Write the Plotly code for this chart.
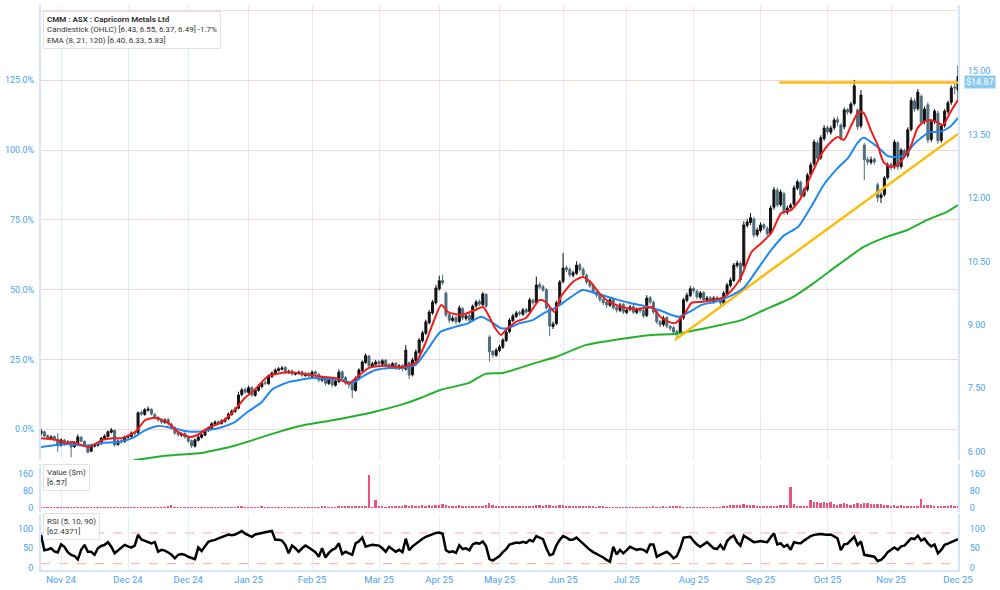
import plotly.graph_objects as go

# ---------------- data ----------------
tick_pos = [6, 26, 44, 62, 81, 101, 119, 137, 156, 175, 195, 215, 235, 254, 274]
tick_labels = ["Nov 24", "Dec 24", "Dec 24", "Jan 25", "Feb 25", "Mar 25", "Apr 25", "May 25",
               "Jun 25", "Jul 25", "Aug 25", "Sep 25", "Oct 25", "Nov 25", "Dec 25"]

close_ = [
    6.49, 6.37, 6.32, 6.35, 6.28, 6.14, 6.28, 6.18, 6.23, 6.11,
    6.21, 6.35, 6.25, 6.16, 5.99, 6.14, 6.16, 6.18, 6.32, 6.37,
    6.47, 6.51, 6.16, 6.25, 6.23, 6.35, 6.37, 6.44, 6.42, 6.92,
    6.89, 6.99, 7.01, 6.89, 6.80, 6.75, 6.70, 6.75, 6.66, 6.56,
    6.44, 6.40, 6.42, 6.35, 6.25, 6.14, 6.28, 6.35, 6.40, 6.51,
    6.56, 6.66, 6.70, 6.68, 6.73, 6.77, 6.89, 6.96, 7.01, 7.34,
    7.46, 7.41, 7.51, 7.34, 7.46, 7.55, 7.62, 7.62, 7.79, 7.86,
    7.93, 7.96, 7.98, 7.88, 7.90, 7.84, 7.86, 7.88, 7.81, 7.84,
    7.79, 7.88, 7.84, 7.70, 7.74, 7.62, 7.70, 7.58, 7.67, 7.88,
    7.74, 7.62, 7.58, 7.46, 7.74, 7.93, 8.12, 8.27, 8.03, 8.08,
    8.12, 8.08, 8.15, 8.05, 8.03, 8.08, 7.98, 8.03, 7.96, 8.40,
    7.81, 8.17, 8.36, 8.64, 8.81, 9.07, 9.30, 9.54, 9.87, 10.04,
    9.99, 9.23, 9.11, 9.16, 9.07, 9.40, 9.16, 9.21, 9.11, 9.44,
    9.54, 9.49, 9.73, 9.44, 8.36, 8.29, 8.40, 8.48, 8.64, 8.83,
    9.11, 9.21, 9.28, 9.26, 9.35, 9.30, 9.59, 9.52, 9.94, 9.89,
    9.82, 9.40, 8.97, 9.02, 9.52, 10.01, 10.34, 10.30, 10.18, 10.23,
    10.41, 10.30, 10.18, 10.01, 9.92, 9.78, 9.70, 9.59, 9.52, 9.47,
    9.59, 9.40, 9.35, 9.47, 9.30, 9.35, 9.42, 9.30, 9.37, 9.33,
    9.21, 9.63, 9.54, 9.30, 9.07, 9.00, 9.16, 8.97, 8.92, 8.83,
    8.81, 9.16, 9.59, 9.70, 9.85, 9.80, 9.66, 9.75, 9.59, 9.63,
    9.56, 9.63, 9.59, 9.52, 9.75, 9.94, 10.06, 10.41, 10.46, 10.06,
    11.36, 11.43, 11.53, 11.12, 11.24, 11.36, 11.29, 11.15, 11.76, 12.19,
    11.83, 12.14, 11.67, 11.76, 11.83, 12.24, 12.38, 12.07, 12.19, 12.54,
    12.78, 13.32, 12.94, 13.42, 13.65, 13.56, 13.65, 13.84, 13.79, 13.42,
    14.08, 14.03, 14.22, 14.65, 13.68, 14.43, 12.90, 12.85, 12.90, 12.85,
    12.00, 12.07, 12.47, 12.78, 12.73, 13.32, 12.73, 13.13, 13.00, 13.61,
    14.30, 14.10, 14.50, 13.79, 14.10, 13.37, 13.80, 14.05, 13.35, 13.70,
    14.05, 14.25, 14.60, 14.60, 14.87,
]
open_ = [
    6.43, 6.47, 6.38, 6.31, 6.36, 6.30, 6.15, 6.27, 6.19, 6.22,
    6.12, 6.22, 6.34, 6.24, 6.15, 6.01, 6.13, 6.15, 6.19, 6.31,
    6.36, 6.46, 6.50, 6.17, 6.26, 6.24, 6.34, 6.36, 6.45, 6.45,
    6.93, 6.88, 6.98, 7.00, 6.88, 6.81, 6.76, 6.69, 6.76, 6.65,
    6.57, 6.45, 6.39, 6.43, 6.36, 6.26, 6.13, 6.27, 6.34, 6.39,
    6.50, 6.55, 6.65, 6.71, 6.67, 6.72, 6.78, 6.88, 6.95, 7.03,
    7.35, 7.47, 7.40, 7.52, 7.33, 7.45, 7.54, 7.63, 7.61, 7.78,
    7.85, 7.92, 7.95, 7.99, 7.87, 7.91, 7.83, 7.85, 7.89, 7.80,
    7.85, 7.78, 7.89, 7.83, 7.69, 7.75, 7.61, 7.71, 7.57, 7.66,
    7.89, 7.75, 7.63, 7.59, 7.45, 7.73, 7.92, 8.11, 8.26, 8.02,
    8.07, 8.13, 8.07, 8.16, 8.06, 8.02, 8.09, 7.97, 8.04, 7.95,
    8.10, 7.82, 8.15, 8.35, 8.62, 8.80, 9.05, 9.28, 9.52, 9.85,
    10.05, 9.75, 9.24, 9.10, 9.17, 9.08, 9.38, 9.15, 9.22, 9.12,
    9.45, 9.55, 9.48, 9.72, 8.71, 8.37, 8.28, 8.39, 8.47, 8.63,
    8.84, 9.10, 9.20, 9.29, 9.25, 9.36, 9.31, 9.58, 9.53, 9.95,
    9.90, 9.83, 9.38, 8.96, 9.03, 9.53, 10.02, 10.35, 10.31, 10.17,
    10.22, 10.42, 10.31, 10.17, 10.02, 9.93, 9.77, 9.71, 9.60, 9.53,
    9.46, 9.60, 9.41, 9.34, 9.48, 9.29, 9.36, 9.43, 9.29, 9.38,
    9.34, 9.22, 9.64, 9.53, 9.31, 9.08, 9.01, 9.17, 8.96, 8.93,
    8.84, 8.82, 9.17, 9.58, 9.69, 9.86, 9.79, 9.65, 9.76, 9.58,
    9.64, 9.55, 9.64, 9.60, 9.51, 9.74, 9.93, 10.05, 10.40, 10.45,
    10.40, 11.35, 11.42, 11.50, 11.13, 11.23, 11.37, 11.28, 11.16, 11.78,
    12.18, 11.84, 12.10, 11.66, 11.77, 11.85, 12.23, 12.37, 12.06, 12.20,
    12.55, 12.80, 13.30, 12.95, 13.40, 13.66, 13.55, 13.66, 13.85, 13.72,
    13.68, 14.09, 14.02, 14.23, 14.08, 13.70, 13.25, 12.91, 12.84, 12.91,
    12.31, 12.01, 12.08, 12.48, 12.79, 12.73, 13.30, 12.74, 13.12, 13.01,
    13.62, 14.29, 14.11, 14.40, 13.80, 14.20, 13.38, 13.81, 14.00, 13.36,
    13.71, 14.04, 14.26, 14.62, 14.55,
]
high_ = [
    6.55, 6.50, 6.41, 6.39, 6.38, 6.44, 6.31, 6.30, 6.27, 6.25,
    6.25, 6.41, 6.37, 6.27, 6.17, 6.17, 6.20, 6.22, 6.35, 6.41,
    6.50, 6.56, 6.53, 6.29, 6.29, 6.38, 6.41, 6.48, 6.49, 6.95,
    6.97, 7.03, 7.07, 7.03, 6.91, 6.84, 6.79, 6.79, 6.80, 6.68,
    6.60, 6.49, 6.45, 6.46, 6.38, 6.29, 6.31, 6.39, 6.44, 6.54,
    6.60, 6.70, 6.74, 6.74, 6.77, 6.81, 6.93, 7.00, 7.06, 7.42,
    7.51, 7.52, 7.56, 7.55, 7.49, 7.59, 7.66, 7.68, 7.83, 7.90,
    7.97, 8.00, 8.03, 8.02, 7.94, 7.94, 7.89, 7.92, 7.92, 7.88,
    7.88, 7.92, 7.92, 7.86, 7.78, 7.78, 7.74, 7.74, 7.71, 7.95,
    7.92, 7.79, 7.67, 7.62, 7.78, 7.97, 8.16, 8.33, 8.29, 8.13,
    8.17, 8.17, 8.19, 8.19, 8.09, 8.12, 8.12, 8.07, 8.07, 8.52,
    8.14, 8.22, 8.42, 8.69, 8.86, 9.12, 9.35, 9.59, 9.94, 10.16,
    10.18, 9.79, 9.30, 9.22, 9.21, 9.46, 9.42, 9.26, 9.26, 9.48,
    9.59, 9.60, 9.78, 9.75, 8.76, 8.41, 8.45, 8.53, 8.69, 8.88,
    9.16, 9.26, 9.33, 9.33, 9.40, 9.40, 9.64, 9.62, 10.14, 10.00,
    9.95, 9.87, 9.42, 9.08, 9.57, 10.06, 10.70, 10.40, 10.36, 10.28,
    10.50, 10.46, 10.36, 10.21, 10.06, 9.97, 9.82, 9.75, 9.65, 9.58,
    9.64, 9.64, 9.45, 9.52, 9.52, 9.39, 9.47, 9.47, 9.41, 9.42,
    9.38, 9.70, 9.68, 9.57, 9.35, 9.12, 9.21, 9.21, 9.00, 8.97,
    8.88, 9.21, 9.64, 9.76, 9.92, 9.90, 9.84, 9.80, 9.80, 9.68,
    9.68, 9.68, 9.69, 9.64, 9.80, 9.99, 10.12, 10.46, 10.52, 10.50,
    11.45, 11.50, 11.64, 11.55, 11.30, 11.42, 11.40, 11.33, 11.82, 12.26,
    12.24, 12.20, 12.15, 11.82, 11.88, 12.30, 12.43, 12.41, 12.25, 12.59,
    12.84, 13.38, 13.36, 13.48, 13.72, 13.71, 13.71, 13.90, 13.92, 13.76,
    14.14, 14.12, 14.27, 14.79, 14.12, 14.55, 13.30, 12.97, 12.98, 12.95,
    12.36, 12.13, 12.52, 12.84, 12.84, 13.38, 13.34, 13.18, 13.16, 13.67,
    14.38, 14.35, 14.57, 14.45, 14.16, 14.26, 13.85, 14.10, 14.06, 13.76,
    14.10, 14.30, 14.66, 14.72, 15.13,
]
low_ = [
    6.37, 6.34, 6.28, 6.29, 6.24, 6.00, 6.12, 6.14, 6.16, 5.87,
    6.09, 6.19, 6.22, 6.12, 5.96, 5.99, 6.10, 6.12, 6.16, 6.28,
    6.33, 6.43, 6.12, 6.14, 6.19, 6.21, 6.31, 6.33, 6.38, 6.42,
    6.84, 6.85, 6.95, 6.86, 6.77, 6.71, 6.66, 6.66, 6.62, 6.52,
    6.40, 6.36, 6.35, 6.31, 6.21, 6.09, 6.10, 6.24, 6.31, 6.37,
    6.47, 6.52, 6.62, 6.64, 6.64, 6.69, 6.75, 6.85, 6.92, 7.00,
    7.31, 7.37, 7.37, 7.30, 7.30, 7.42, 7.50, 7.57, 7.58, 7.74,
    7.82, 7.89, 7.92, 7.84, 7.84, 7.80, 7.80, 7.82, 7.77, 7.77,
    7.75, 7.75, 7.80, 7.64, 7.65, 7.56, 7.58, 7.52, 7.54, 7.62,
    7.70, 7.58, 7.50, 7.27, 7.42, 7.69, 7.88, 8.07, 7.98, 7.99,
    8.03, 8.04, 8.03, 8.01, 7.99, 7.98, 7.93, 7.93, 7.90, 7.92,
    7.72, 7.78, 8.11, 8.31, 8.58, 8.76, 9.01, 9.24, 9.48, 9.81,
    9.94, 9.18, 9.04, 9.06, 9.01, 9.04, 9.11, 9.10, 9.06, 9.08,
    9.40, 9.44, 9.44, 9.40, 8.13, 8.22, 8.24, 8.35, 8.43, 8.59,
    8.80, 9.06, 9.16, 9.21, 9.21, 9.26, 9.27, 9.47, 9.49, 9.84,
    9.78, 9.36, 8.73, 8.90, 8.99, 9.49, 9.98, 10.24, 10.12, 10.12,
    10.18, 10.26, 10.13, 9.96, 9.87, 9.73, 9.65, 9.54, 9.46, 9.40,
    9.42, 9.36, 9.29, 9.30, 9.25, 9.25, 9.32, 9.25, 9.25, 9.28,
    9.16, 9.18, 9.48, 9.25, 9.02, 8.94, 8.96, 8.92, 8.86, 8.77,
    8.70, 8.78, 9.12, 9.53, 9.65, 9.74, 9.61, 9.60, 9.54, 9.53,
    9.51, 9.50, 9.54, 9.46, 9.47, 9.70, 9.88, 10.01, 10.35, 10.00,
    10.35, 11.30, 11.36, 11.06, 11.08, 11.18, 11.24, 11.09, 11.12, 11.72,
    11.78, 11.79, 11.60, 11.60, 11.72, 11.80, 12.18, 12.00, 12.01, 12.15,
    12.50, 12.74, 12.88, 12.90, 13.35, 13.50, 13.49, 13.60, 13.70, 13.36,
    13.62, 13.97, 13.97, 14.18, 13.60, 13.64, 12.42, 12.78, 12.79, 12.79,
    11.90, 11.88, 12.03, 12.43, 12.66, 12.68, 12.66, 12.69, 12.94, 12.95,
    13.57, 14.04, 14.06, 13.72, 13.74, 13.30, 13.32, 13.75, 13.28, 13.30,
    13.66, 13.98, 14.20, 14.45, 14.32,
]

# EMA lines read at sample bars (bar index, price)
ema8_x = [0, 4.5, 7.4, 9.5, 14.2, 18.4, 21.4, 24.3, 28.2, 31.2, 34.1, 38.0, 40.9, 44.5, 46.9, 49.9,
          54.0, 57.9, 60.9, 63.8, 68, 74.2, 81.0, 84.0, 88.2, 92.0, 94.1, 98.0, 103.0, 107.8,
          111.9, 114.9, 116.7, 119.6, 121.7, 125.6, 129.7, 132.1, 135.7, 137.4, 138.9, 141.9,
          144.9, 149.0, 150.8, 153.5, 155.3, 158.9, 161.8, 164.2, 166.8, 169.8, 173.7, 177.5,
          180.5, 182.6, 185.0, 187.6, 189.4, 192.1, 194.4, 197.4, 201.3, 204.2, 207.2, 209.3,
          212.3, 215.2, 218.2, 221.2, 224.1, 227.1, 230.1, 233.0, 236.0, 238.1, 239.9, 241.9,
          244.3, 245.8, 247.9, 250.0, 251.7, 253.8, 255.9, 257.7, 259.8, 261.9, 263.6, 265.7,
          267.8, 269.5, 271.6, 274]
ema8_v = [6.32, 6.28, 6.21, 6.23, 6.11, 6.28, 6.32, 6.32, 6.47, 6.75, 6.80, 6.68, 6.47, 6.35, 6.40,
          6.56, 6.70, 6.99, 7.27, 7.46, 7.79, 7.88, 7.81, 7.77, 7.74, 7.62, 7.74, 7.98, 8.03, 8.00,
          8.10, 8.57, 8.95, 9.47, 9.30, 9.23, 9.35, 9.42, 8.92, 8.76, 8.88, 9.07, 9.16, 9.59, 9.54,
          9.30, 9.66, 10.01, 10.13, 10.01, 9.75, 9.54, 9.42, 9.37, 9.40, 9.42, 9.19, 9.07, 9.04,
          9.23, 9.52, 9.54, 9.59, 9.66, 9.89, 10.15, 10.72, 10.93, 11.17, 11.64, 11.71, 12.00,
          12.54, 13.01, 13.32, 13.44, 13.37, 13.68, 14.03, 14.01, 13.61, 13.25, 12.85, 12.73,
          12.78, 12.94, 13.20, 13.65, 13.79, 13.84, 13.79, 13.72, 14.01, 14.32]

ema21_x = [0, 4.5, 8.3, 13.4, 18.4, 23.2, 27.3, 31.2, 35.0, 38.0, 43.0, 46.9, 49.9, 54.0, 57.9, 61.7,
           65.9, 69.2, 74.2, 81.0, 86.1, 90.0, 92.9, 95.9, 100.0, 103.9, 107.8, 111.9, 115.8, 119.3,
           123.8, 127.7, 131.5, 134.5, 137.4, 139.5, 143.1, 146.9, 150.8, 153.8, 157.9, 161.8,
           165.6, 170.7, 175.7, 180.5, 184.6, 188.5, 190.6, 193.6, 197.4, 201.3, 205.4, 210.2,
           214.3, 218.2, 222.1, 226.2, 230.1, 233.9, 238.1, 241.1, 244.0, 245.8, 250.0, 253.0,
           255.9, 258.3, 260.6, 263.3, 265.7, 268.7, 271.6, 274]
ema21_v = [6.11, 6.16, 6.18, 6.14, 6.21, 6.23, 6.32, 6.51, 6.61, 6.58, 6.49, 6.47, 6.51, 6.58, 6.70,
           6.94, 7.17, 7.48, 7.65, 7.74, 7.72, 7.70, 7.62, 7.77, 7.93, 7.98, 7.98, 8.05, 8.45, 8.83,
           8.95, 9.04, 9.19, 9.07, 8.92, 8.92, 9.04, 9.11, 9.30, 9.40, 9.63, 9.82, 9.75, 9.63, 9.52,
           9.44, 9.35, 9.23, 9.19, 9.30, 9.47, 9.54, 9.66, 9.89, 10.34, 10.77, 11.12, 11.31, 11.79,
           12.31, 12.71, 12.94, 13.30, 13.42, 13.20, 12.99, 12.97, 13.01, 13.25, 13.44, 13.56,
           13.56, 13.68, 13.89]

ema120_x = [0, 14, 22, 27.6, 38.0, 48.1, 57.9, 69.8, 78.7, 87.6, 99.4, 108.4, 113.4, 119.3, 127.7,
            132.7, 138.0, 147.8, 153.8, 162.7, 172.8, 182.6, 189.4, 197.4, 209.3, 216.1, 224.1,
            231.0, 238.1, 245.8, 251.7, 258.9, 264.8, 270.7, 274]
ema120_v = [5.30, 5.45, 5.60, 5.79, 5.91, 5.97, 6.14, 6.44, 6.63, 6.75, 6.94, 7.13, 7.27, 7.46, 7.62,
            7.84, 7.86, 8.10, 8.24, 8.52, 8.66, 8.76, 8.78, 8.90, 9.11, 9.35, 9.63, 9.99, 10.41,
            10.84, 11.05, 11.24, 11.48, 11.67, 11.83]

# orange drawn lines: resistance and rising trend line
resist_x = [220.6, 274]
resist_v = [14.73, 14.73]
trend_x = [189.4, 274]
trend_v = [8.64, 13.51]

value_m = [
    2, 1, 2, 1, 2, 3, 1, 2, 1, 2,
    1, 2, 2, 1, 3, 2, 1, 2, 2, 1,
    2, 1, 3, 2, 1, 2, 1, 2, 2, 4,
    2, 3, 2, 1, 2, 2, 3, 2, 6, 14,
    3, 2, 2, 1, 2, 3, 2, 2, 1, 2,
    2, 1, 2, 2, 3, 2, 2, 3, 2, 5,
    5, 3, 2, 2, 4, 3, 6, 2, 3, 2,
    2, 1, 2, 3, 2, 2, 1, 2, 2, 3,
    2, 2, 3, 2, 6, 5, 3, 2, 4, 8,
    9, 8, 10, 9, 8, 11, 9, 7, 155, 4,
    38, 6, 5, 4, 8, 6, 7, 5, 6, 12,
    10, 12, 9, 8, 14, 10, 12, 9, 15, 16,
    18, 14, 10, 8, 9, 12, 8, 7, 6, 9,
    7, 8, 10, 12, 22, 14, 9, 8, 7, 6,
    8, 6, 7, 5, 6, 8, 10, 9, 14, 12,
    10, 12, 14, 9, 11, 15, 16, 10, 9, 8,
    10, 7, 6, 5, 6, 5, 4, 5, 6, 3,
    3, 4, 2, 3, 2, 3, 2, 3, 2, 3,
    2, 3, 3, 8, 3, 2, 5, 4, 6, 5,
    6, 5, 4, 3, 4, 3, 3, 4, 4, 3,
    4, 3, 4, 4, 5, 6, 12, 14, 15, 16,
    18, 16, 15, 14, 5, 5, 6, 5, 10, 11,
    10, 12, 15, 14, 98, 20, 9, 10, 9, 8,
    38, 26, 27, 25, 28, 22, 30, 18, 16, 19,
    22, 18, 15, 20, 25, 18, 21, 22, 19, 20,
    18, 20, 12, 13, 11, 12, 10, 12, 10, 9,
    11, 10, 9, 40, 12, 13, 12, 11, 9, 10,
    11, 10, 12, 8, 5,
]

rsi = [
    85, 45, 47, 50, 42, 39, 60, 54, 40, 33,
    30, 21, 46, 59, 41, 41, 33, 50, 56, 59,
    66, 54, 37, 45, 52, 59, 55, 52, 57, 85,
    73, 69, 66, 63, 66, 41, 46, 44, 39, 33,
    24, 33, 35, 33, 28, 24, 22, 52, 43, 55,
    67, 70, 72, 76, 80, 83, 86, 84, 86, 90,
    95, 88, 85, 80, 86, 89, 90, 92, 93, 95,
    72, 72, 70, 59, 37, 57, 50, 41, 50, 57,
    52, 46, 40, 28, 50, 26, 38, 46, 50, 63,
    35, 41, 38, 33, 63, 68, 78, 54, 57, 59,
    58, 57, 50, 41, 54, 48, 41, 46, 40, 75,
    45, 55, 62, 70, 75, 80, 84, 87, 90, 91,
    88, 45, 40, 42, 38, 58, 48, 50, 45, 60,
    64, 62, 68, 55, 22, 18, 25, 30, 40, 48,
    60, 63, 65, 64, 67, 64, 72, 68, 82, 78,
    74, 50, 32, 35, 58, 72, 82, 78, 72, 73,
    78, 70, 62, 52, 46, 40, 36, 30, 26, 20,
    15, 54, 34, 46, 37, 45, 54, 50, 46, 48,
    46, 40, 60, 60, 28, 33, 38, 41, 34, 24,
    30, 50, 78, 80, 80, 69, 60, 54, 59, 66,
    58, 50, 48, 59, 46, 69, 78, 83, 66, 57,
    83, 78, 72, 66, 67, 69, 67, 66, 78, 89,
    60, 63, 54, 59, 46, 66, 64, 63, 70, 76,
    82, 85, 86, 87, 86, 85, 86, 82, 76, 45,
    60, 62, 70, 80, 58, 68, 33, 31, 30, 28,
    17, 20, 28, 40, 46, 52, 46, 55, 57, 66,
    76, 74, 83, 70, 75, 63, 55, 60, 37, 46,
    59, 62, 66, 69, 74,
]
rsi_bands = [10, 90]

price_ticks = [6.0, 7.5, 9.0, 10.5, 12.0, 13.5, 15.0]
pct_ticks = [0, 25, 50, 75, 100, 125, 150]
pct_labels = ["0.0%", "25.0%", "50.0%", "75.0%", "100.0%", "125.0%", ""]

# ---------------- figure ----------------
bars = list(range(len(close_)))
base = close_[0]
pct = [(c / base - 1) * 100 for c in close_]

TICKC = "#4aa3f0"
AXLINE = "#d6e6f8"
VGRID = "#e1edf9"
FONT = "Roboto"
xmax = len(close_) - 1

fig = go.Figure()

fig.add_trace(go.Scatter(x=bars, y=pct, xaxis="x", yaxis="y2", mode="lines",
                         line=dict(color="rgba(0,0,0,0)", width=0), hoverinfo="skip", showlegend=False))

fig.add_trace(go.Scatter(x=ema120_x, y=ema120_v, xaxis="x", yaxis="y", mode="lines",
                         line=dict(color="#22b22a", width=2, shape="spline", smoothing=0.4),
                         hoverinfo="skip", showlegend=False))
fig.add_trace(go.Scatter(x=trend_x, y=trend_v, xaxis="x", yaxis="y", mode="lines",
                         line=dict(color="#fbbd0c", width=2.5), hoverinfo="skip", showlegend=False))
fig.add_trace(go.Scatter(x=resist_x, y=resist_v, xaxis="x", yaxis="y", mode="lines",
                         line=dict(color="#fbbd0c", width=2.5), hoverinfo="skip", showlegend=False))
fig.add_trace(go.Scatter(x=ema21_x, y=ema21_v, xaxis="x", yaxis="y", mode="lines",
                         line=dict(color="#1e88f0", width=2, shape="spline", smoothing=0.6),
                         hoverinfo="skip", showlegend=False))
fig.add_trace(go.Scatter(x=ema8_x, y=ema8_v, xaxis="x", yaxis="y", mode="lines",
                         line=dict(color="#f01d1d", width=2, shape="spline", smoothing=0.6),
                         hoverinfo="skip", showlegend=False))

fig.add_trace(go.Candlestick(
    x=bars, open=open_, high=high_, low=low_, close=close_, xaxis="x", yaxis="y",
    increasing=dict(line=dict(color="#111111", width=1), fillcolor="#111111"),
    decreasing=dict(line=dict(color="#4d6d7c", width=1), fillcolor="#4d6d7c"),
    whiskerwidth=0, hoverinfo="skip", showlegend=False))

fig.add_trace(go.Bar(x=bars, y=value_m, xaxis="x2", yaxis="y3", marker=dict(color="#f0527a", line=dict(width=0)),
                     width=0.55, hoverinfo="skip", showlegend=False))
fig.add_trace(go.Scatter(x=bars, y=value_m, xaxis="x2", yaxis="y5", mode="lines",
                         line=dict(color="rgba(0,0,0,0)", width=0), hoverinfo="skip", showlegend=False))

fig.add_trace(go.Scatter(x=bars, y=rsi, xaxis="x3", yaxis="y4", mode="lines",
                         line=dict(color="#000000", width=2.5), hoverinfo="skip", showlegend=False))
fig.add_trace(go.Scatter(x=bars, y=rsi, xaxis="x3", yaxis="y6", mode="lines",
                         line=dict(color="rgba(0,0,0,0)", width=0), hoverinfo="skip", showlegend=False))

for b in rsi_bands:
    fig.add_shape(type="line", xref="x3", yref="y4", x0=0, x1=xmax, y0=b, y1=b,
                  line=dict(color="#f6aaaa", width=1, dash="dash"), layer="below")

tickfont = dict(family=FONT, size=9, color=TICKC)
xcommon = dict(range=[0, xmax], tickmode="array", tickvals=tick_pos, ticktext=tick_labels,
               showgrid=True, gridcolor=VGRID, gridwidth=1, zeroline=False, ticks="",
               tickfont=dict(family=FONT, size=9.5, color=TICKC), fixedrange=True)

fig.update_layout(
    width=1000, height=590,
    margin=dict(l=35, r=42, t=5, b=20),
    paper_bgcolor="white", plot_bgcolor="white",
    font=dict(family=FONT, size=9, color="#333333"),
    showlegend=False,
    bargap=0,
    boxgap=0.15,
    xaxis=dict(**xcommon, anchor="y", showticklabels=False, rangeslider=dict(visible=False)),
    xaxis2=dict(**xcommon, anchor="y3", showticklabels=False, matches="x"),
    xaxis3=dict(**xcommon, anchor="y4", showticklabels=True, matches="x",
                showline=True, linecolor=AXLINE, linewidth=2),
    yaxis=dict(domain=[0.1947, 1.0], range=[5.804, 16.56], side="right", tickmode="array",
               tickvals=price_ticks, tickprefix="$", tickformat=".2f", showgrid=False,
               zeroline=False, ticks="", tickfont=tickfont, showline=True, linecolor=AXLINE,
               linewidth=2, ticklabelstandoff=6),
    yaxis2=dict(overlaying="y", side="left", range=[-10.99, 151.97], tickmode="array",
                tickvals=pct_ticks, ticktext=pct_labels, showgrid=True, gridcolor="#f9d6d6",
                gridwidth=1, zeroline=False, ticks="", tickfont=tickfont, showline=True,
                linecolor=AXLINE, linewidth=2, anchor="x", ticklabelstandoff=3),
    yaxis3=dict(domain=[0.1027, 0.1876], range=[-18.7, 205.6], tickmode="array",
                tickvals=[0, 80, 160], showgrid=False, zeroline=False, ticks="",
                tickfont=tickfont, showline=True, linecolor=AXLINE, linewidth=2, anchor="x2",
                ticklabelstandoff=4),
    yaxis5=dict(overlaying="y3", side="right", matches="y3", tickmode="array",
                tickvals=[0, 80, 160], showgrid=False, zeroline=False, ticks="",
                tickfont=tickfont, showline=True, linecolor=AXLINE, linewidth=2, anchor="x2",
                ticklabelstandoff=8),
    yaxis4=dict(domain=[0.0, 0.0991], range=[-6.5, 139.3], tickmode="array",
                tickvals=[0, 50, 100], showgrid=False, zeroline=False, ticks="",
                tickfont=tickfont, showline=True, linecolor=AXLINE, linewidth=2, anchor="x3",
                ticklabelstandoff=4),
    yaxis6=dict(overlaying="y4", side="right", matches="y4", tickmode="array",
                tickvals=[0, 50, 100], showgrid=False, zeroline=False, ticks="",
                tickfont=tickfont, showline=True, linecolor=AXLINE, linewidth=2, anchor="x3",
                ticklabelstandoff=8),
)

box = dict(xref="paper", yref="paper", xanchor="left", yanchor="top", align="left",
           showarrow=False, bgcolor="white", bordercolor="#e2e2e2", borderwidth=1, borderpad=3,
           font=dict(family=FONT, size=8, color="#333333"))
fig.add_annotation(x=0.002, y=0.989,
                   text="<b>CMM : ASX : Capricorn Metals Ltd</b><br>"
                        "Candlestick (OHLC) [6.43, 6.55, 6.37, 6.49] -1.7%<br>"
                        "EMA (8, 21, 120) [6.40, 6.33, 5.83]", **box)
fig.add_annotation(x=0.002, y=0.1876, text="Value ($m)<br>[6.57]", **box)
fig.add_annotation(x=0.002, y=0.1009, text="RSI (5, 10, 90)<br>[62.4371]", **box)

fig.add_annotation(x=1.024, xref="paper", y=close_[-1], yref="y", yshift=-6, text="$%.2f" % close_[-1],
                   showarrow=False, xanchor="center", yanchor="middle",
                   bgcolor="#8ccbf0", borderpad=1, font=dict(family=FONT, size=9, color="white"))

fig.write_html("out.html")
